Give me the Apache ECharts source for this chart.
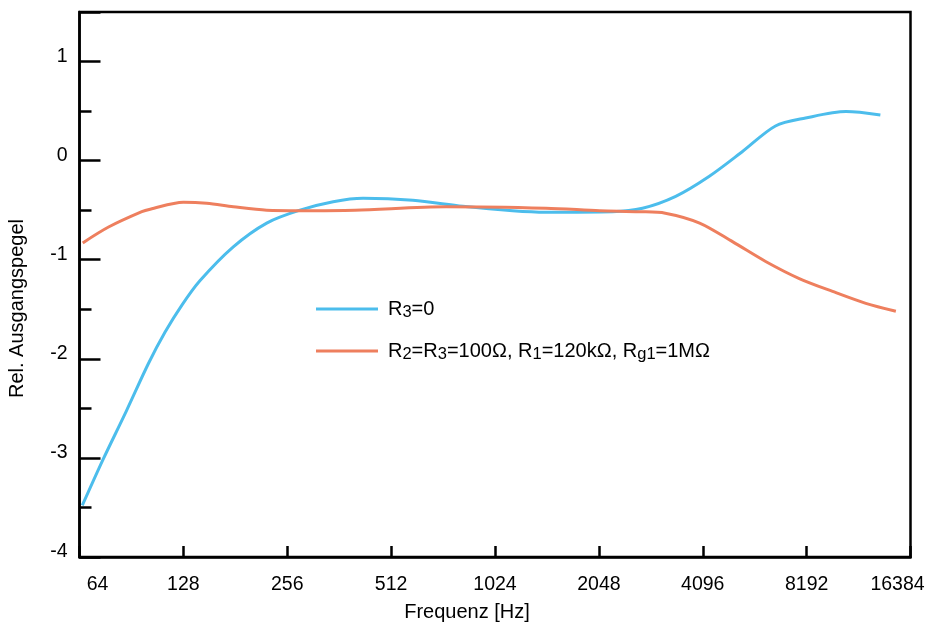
<!DOCTYPE html>
<html><head><meta charset="utf-8">
<script src="https://cdn.jsdelivr.net/npm/echarts@6/dist/echarts.min.js"></script>
<style>html,body{margin:0;padding:0;background:#fff}#c{width:925px;height:624px}</style>
</head><body><div id="c"></div>
<script>
var xTicks = [64, 128, 256, 512, 1024, 2048, 4096, 8192, 16384];
var yTicks = [-4, -3, -2, -1, 0, 1];
var seriesNames = ['R3=0', 'R2=R3=100Ω, R1=120kΩ, Rg1=1MΩ'];
var freqA = [65.2, 74.8, 87.4, 101.3, 113.3, 126.9, 143.1, 178.6, 223.2, 278.6, 347.8, 424.6, 592, 826, 1152, 1438, 2241, 2740, 3420, 4270, 5330, 6654, 8134, 10660, 13400];
var valA = [-3.48, -3.02, -2.53, -2.05, -1.73, -1.455, -1.21, -0.87, -0.63, -0.50, -0.415, -0.38, -0.40, -0.46, -0.505, -0.52, -0.515, -0.48, -0.36, -0.16, 0.09, 0.35, 0.43, 0.495, 0.46];
var freqB = [65.4, 77.7, 97, 102.6, 128, 149.6, 178.6, 223.2, 278.6, 401.7, 739, 1438, 2058, 2684, 3190, 4011, 5008, 6250, 7800, 9740, 12160, 14860];
var valB = [-0.83, -0.67, -0.515, -0.49, -0.42, -0.43, -0.465, -0.50, -0.505, -0.50, -0.465, -0.48, -0.505, -0.515, -0.53, -0.63, -0.82, -1.02, -1.19, -1.32, -1.44, -1.52];

var FONT = '"Liberation Sans", Arial, Helvetica, sans-serif';
function zip(a, b) { return a.map(function (v, i) { return [v, b[i]]; }); }

var chart = echarts.init(document.getElementById('c'), null, { renderer: 'canvas' });
var sub = { fontSize: 16.5, fontFamily: FONT, color: '#000', verticalAlign: 'bottom', lineHeight: 20 };
var main = { fontSize: 20, fontFamily: FONT, color: '#000', lineHeight: 24 };
var tickFont = { fontSize: 19.5, fontFamily: FONT, color: '#000' };
chart.setOption({
  animation: false,
  backgroundColor: '#fff',
  grid: { left: 79.5, right: 14.5, top: 12, bottom: 67, show: true, borderColor: '#000', borderWidth: 2.5, backgroundColor: 'transparent', containLabel: false, outerBoundsMode: 'none' },
  legend: {
    orient: 'vertical', left: 316, top: 299, padding: 0, itemWidth: 62, itemHeight: 3, itemGap: 20,
    icon: 'rect',
    data: seriesNames,
    formatter: function (n) {
      if (n === seriesNames[0]) return '{m|R}{s|3}{m|=0}';
      return '{m|R}{s|2}{m|=R}{s|3}{m|=100Ω, R}{s|1}{m|=120kΩ, R}{s|g1}{m|=1MΩ}';
    },
    textStyle: { fontSize: 20, fontFamily: FONT, color: '#000', padding: [0, 0, 0, 5], rich: { m: main, s: sub } }
  },
  xAxis: {
    type: 'log', logBase: 2, min: xTicks[0], max: xTicks[xTicks.length - 1],
    splitNumber: 8,
    name: 'Frequenz [Hz]', nameLocation: 'middle', nameGap: 45,
    nameTextStyle: { fontSize: 20, fontFamily: FONT, color: '#000', padding: [0, 56, 0, 0] },
    axisLine: { show: true, onZero: false, lineStyle: { color: '#000', width: 2.5 } },
    axisTick: { show: true, inside: true, length: 11, lineStyle: { color: '#000', width: 2.5 } },
    splitLine: { show: false },
    axisLabel: {
      margin: 18, fontSize: 19.5, fontFamily: FONT, color: '#000',
      formatter: function (v) {
        if (v === xTicks[0]) return '{a|' + v + '}';
        if (v === xTicks[xTicks.length - 1]) return '{b|' + v + '}';
        return '{n|' + v + '}';
      },
      rich: {
        n: tickFont,
        a: Object.assign({ padding: [0, 0, 0, 36] }, tickFont),
        b: Object.assign({ padding: [0, 26, 0, 0] }, tickFont)
      }
    }
  },
  yAxis: [{
    type: 'value', min: yTicks[0], max: 1.5, interval: 1,
    name: 'Rel. Ausgangspegel', nameLocation: 'middle', nameGap: 52, nameRotate: 90,
    nameTextStyle: { fontSize: 20, fontFamily: FONT, color: '#000', padding: [0, 48, 0, 0] },
    axisLine: { show: true, onZero: false, lineStyle: { color: '#000', width: 2.5 } },
    axisTick: { show: true, inside: true, length: 21, lineStyle: { color: '#000', width: 2.5 } },
    splitLine: { show: false },
    axisLabel: {
      margin: 12, fontSize: 19.5, fontFamily: FONT, color: '#000',
      formatter: function (v) { return yTicks.indexOf(v) >= 0 ? '{v|' + v + '}' : ''; },
      rich: { v: Object.assign({ padding: [0, 0, 10, 0] }, tickFont) }
    }
  }, {
    type: 'value', min: yTicks[0], max: 1.5, interval: 0.5, position: 'left',
    axisLine: { show: false },
    axisTick: { show: true, inside: true, length: 12, lineStyle: { color: '#000', width: 2.5 } },
    splitLine: { show: false },
    axisLabel: { show: false }
  }],
  series: [{
    name: seriesNames[0], type: 'line', data: zip(freqA, valA), smooth: 0.3, showSymbol: false, symbol: 'none',
    lineStyle: { color: '#4cbdec', width: 3 }, itemStyle: { color: '#4cbdec' }
  }, {
    name: seriesNames[1], type: 'line', data: zip(freqB, valB), smooth: 0.3, showSymbol: false, symbol: 'none',
    lineStyle: { color: '#ee7f5e', width: 3 }, itemStyle: { color: '#ee7f5e' }
  }]
});
</script></body></html>
